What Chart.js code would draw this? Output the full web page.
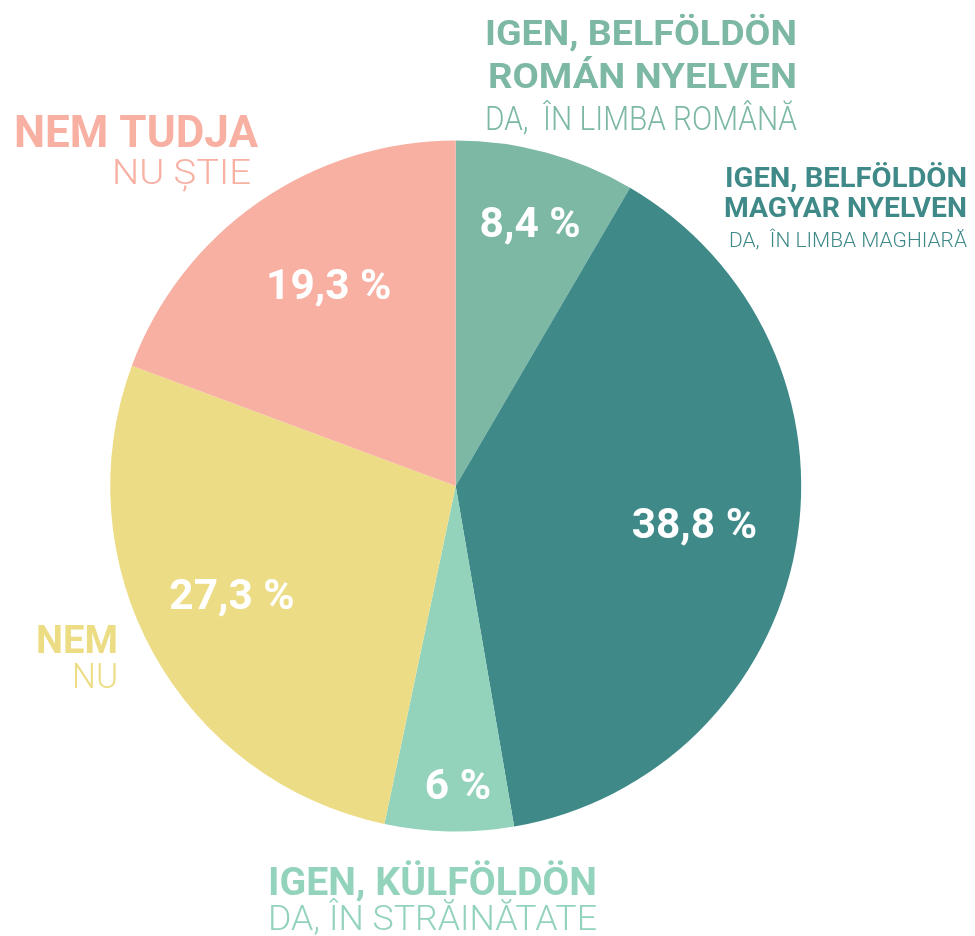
<!DOCTYPE html>
<html>
<head>
<meta charset="utf-8">
<script src="https://cdn.jsdelivr.net/npm/chart.js@4/dist/chart.umd.min.js"></script>
<style>
  html, body { margin: 0; padding: 0; background: #ffffff; }
  #wrap { width: 975px; height: 936px; position: relative; }
</style>
</head>
<body>
<div id="wrap"><canvas id="c" width="975" height="936"></canvas></div>
<script>
// ---- data ----
const categories = [
  'Igen, belföldön román nyelven',
  'Igen, belföldön magyar nyelven',
  'Igen, külföldön',
  'Nem',
  'Nem tudja'
];
const values = [8.4, 38.8, 6, 27.3, 19.3];
const sliceColors = ['#7db8a5', '#3f8a88', '#93d3bc', '#eddc86', '#f8b0a3'];
// label placement (fraction of radius, angle offset in degrees)
const labelDist = [0.795, 0.699, 0.864, 0.719, 0.691];
const labelShift = [0.57, -1.44, -1.5, 3.08, 2.7];
const valueWidthStretch = 1.01;

// outside labels: [text, weight, size, color, x, baseline, align, width]
const outsideLabels = [
  ['IGEN, BELFÖLDÖN', 700, 35, '#7db8a5', 797, 45, 'right', 312],
  ['ROMÁN NYELVEN', 700, 35, '#7db8a5', 797, 88, 'right', 309],
  ['DA,  ÎN LIMBA ROMÂNĂ', 300, 33, '#7db8a5', 797, 130, 'right', 312],
  ['IGEN, BELFÖLDÖN', 700, 27, '#3f8a88', 967, 187, 'right', 242],
  ['MAGYAR NYELVEN', 700, 27, '#3f8a88', 967, 217, 'right', 243],
  ['DA,  ÎN LIMBA MAGHIARĂ', 300, 21, '#3f8a88', 967, 247, 'right', 238],
  ['NEM TUDJA', 700, 45, '#f8b0a3', 258, 147, 'right', 244],
  ['NU ȘTIE', 300, 35, '#f8b0a3', 251, 184, 'right', 139],
  ['NEM', 700, 39, '#ecdc83', 118, 653, 'right', 82],
  ['NU', 300, 35, '#ecdc83', 118, 688, 'right', 46],
  ['IGEN, KÜLFÖLDÖN', 700, 38, '#93d3bc', 432.5, 895, 'center', 329],
  ['DA, ÎN STRĂINĂTATE', 300, 35, '#93d3bc', 432.5, 930, 'center', 329]
];

const fontFamily = 'Roboto, "DejaVu Sans", sans-serif';

function drawFitted(ctx, text, x, y, align, width) {
  const m = ctx.measureText(text).width;
  const s = width / m;
  ctx.save();
  ctx.translate(x, y);
  ctx.scale(s, 1);
  ctx.textAlign = align;
  ctx.fillText(text, 0, 0);
  ctx.restore();
}

const textPlugin = {
  id: 'textPlugin',
  afterDatasetsDraw(chart) {
    const ctx = chart.ctx;
    const meta = chart.getDatasetMeta(0);
    ctx.save();
    // values inside slices
    meta.data.forEach((arc, i) => {
      const p = arc.getProps(['x', 'y', 'startAngle', 'endAngle', 'outerRadius'], true);
      const mid = (p.startAngle + p.endAngle) / 2 + labelShift[i] * Math.PI / 180;
      const r = p.outerRadius * labelDist[i];
      const x = p.x + Math.cos(mid) * r;
      const y = p.y + Math.sin(mid) * r;
      const txt = String(values[i]).replace('.', ',') + ' %';
      const size = 42;
      ctx.font = '700 ' + size + 'px ' + fontFamily;
      ctx.fillStyle = '#ffffff';
      ctx.textBaseline = 'alphabetic';
      const w = ctx.measureText(txt).width * valueWidthStretch;
      drawFitted(ctx, txt, x, y + size * 0.711 / 2, 'center', w);
    });
    // outside category labels
    outsideLabels.forEach(l => {
      const [text, weight, size, color, x, y, align, w] = l;
      ctx.font = weight + ' ' + size + 'px ' + fontFamily;
      ctx.fillStyle = color;
      ctx.textBaseline = 'alphabetic';
      drawFitted(ctx, text, x, y, align, w);
    });
    ctx.restore();
  }
};

new Chart(document.getElementById('c'), {
  type: 'pie',
  data: {
    labels: categories,
    datasets: [{
      data: values,
      backgroundColor: sliceColors,
      borderWidth: 0
    }]
  },
  options: {
    responsive: false,
    animation: false,
    layout: { padding: { left: 110.2, right: 173.8, top: 140.5, bottom: 104.5 } },
    plugins: {
      legend: { display: false },
      tooltip: { enabled: false }
    }
  },
  plugins: [textPlugin]
});
</script>
</body>
</html>
